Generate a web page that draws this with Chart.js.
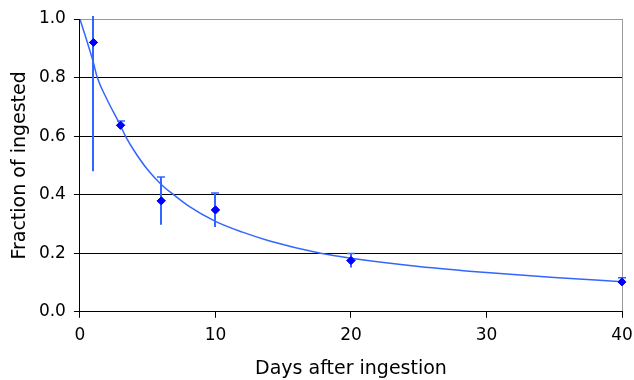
<!DOCTYPE html>
<html>
<head>
<meta charset="utf-8">
<script src="https://cdn.jsdelivr.net/npm/chart.js@4/dist/chart.umd.min.js"></script>
<style>
html,body{margin:0;padding:0;background:#fff;}
canvas{display:block;}
</style>
</head>
<body>
<canvas id="c" width="634" height="380"></canvas>
<script>
// Measured data
const days = [1, 3, 6, 10, 20, 40];
const fraction = [0.92, 0.637, 0.379, 0.348, 0.175, 0.102];
const errLow = [0.48, 0.625, 0.297, 0.29, 0.151, 0.09];
const errHigh = [1.36, 0.652, 0.46, 0.406, 0.199, 0.116];

// Fitted curve
const fitX = [0, 1, 1.28, 2, 3, 3.36, 4, 5, 6, 6.91, 8, 10, 12, 14, 17.75, 20, 25, 30, 35, 40];
const fitY = [1.0, 0.85, 0.8, 0.725, 0.635, 0.6, 0.55, 0.485, 0.435, 0.4, 0.362, 0.309, 0.272, 0.242, 0.2, 0.183, 0.155, 0.134, 0.117, 0.103];

const xTicks = [0, 10, 20, 30, 40];
const yTicks = [0, 0.2, 0.4, 0.6, 0.8, 1.0];

const pointColor = '#0000FF';
const lineColor = '#3366FF';
const FONT = 'DejaVu Sans, Verdana, sans-serif';

const errorBars = {
  id: 'errorBars',
  afterDatasetsDraw(chart) {
    const {ctx, chartArea, scales: {x, y}} = chart;
    ctx.save();
    ctx.beginPath();
    ctx.rect(chartArea.left - 5, chartArea.top - 3, chartArea.width + 10, chartArea.height + 3);
    ctx.clip();
    ctx.strokeStyle = lineColor;
    days.forEach((d, i) => {
      const px = Math.round(x.getPixelForValue(d));
      const yl = y.getPixelForValue(errLow[i]);
      const yh = y.getPixelForValue(errHigh[i]);
      ctx.lineWidth = 2;
      ctx.beginPath();
      ctx.moveTo(px, yl);
      ctx.lineTo(px, yh);
      ctx.stroke();
      ctx.lineWidth = 1.5;
      ctx.beginPath();
      ctx.moveTo(px - 4, yh);
      ctx.lineTo(px + 4, yh);
      ctx.stroke();
    });
    ctx.restore();
    const meta = chart.getDatasetMeta(1);
    meta.data.forEach(el => el.draw(ctx, chartArea));
  }
};

new Chart(document.getElementById('c'), {
  type: 'scatter',
  data: {
    datasets: [
      {
        label: 'fit',
        data: fitX.map((v, i) => ({x: v, y: fitY[i]})),
        showLine: true,
        borderColor: lineColor,
        borderWidth: 1.5,
        pointRadius: 0,
        cubicInterpolationMode: 'monotone',
        fill: false
      },
      {
        label: 'measured',
        data: days.map((v, i) => ({x: v, y: fraction[i]})),
        pointStyle: 'rectRot',
        pointRadius: 4,
        backgroundColor: pointColor,
        borderColor: pointColor,
        borderWidth: 1
      }
    ]
  },
  plugins: [errorBars],
  options: {
    responsive: false,
    animation: false,
    devicePixelRatio: 1,
    layout: {padding: {top: 19, right: 12, left: 10, bottom: 0}},
    plugins: {legend: {display: false}, tooltip: {enabled: false}},
    scales: {
      x: {
        type: 'linear',
        min: 0, max: 40,
        afterBuildTicks: s => { s.ticks = xTicks.map(v => ({value: v})); },
        afterFit: s => { s.paddingLeft = 0; s.paddingRight = 0; },
        ticks: {
          color: '#000',
          font: {family: FONT, size: 17},
          padding: 8,
          maxRotation: 0,
          callback: v => String(v)
        },
        grid: {
          color: c => (c.tick && c.tick.value === 40) ? '#999999' : 'rgba(0,0,0,0)',
          tickColor: '#000',
          tickLength: 6,
          lineWidth: 1
        },
        border: {color: '#000', width: 1},
        title: {
          display: true,
          text: 'Days after ingestion',
          color: '#000',
          font: {family: FONT, size: 19},
          padding: {top: 3, bottom: 0}
        }
      },
      y: {
        type: 'linear',
        min: 0, max: 1.0,
        afterBuildTicks: s => { s.ticks = yTicks.map(v => ({value: v})); },
        afterFit: s => { s.paddingTop = 0; s.paddingBottom = 0; },
        ticks: {
          color: '#000',
          font: {family: FONT, size: 17},
          padding: 8,
          callback: v => v.toFixed(1)
        },
        grid: {
          color: c => (c.tick && Math.abs(c.tick.value - 1) < 1e-9) ? '#999999' : (c.tick && c.tick.value === 0 ? 'rgba(0,0,0,0)' : '#000'),
          tickColor: '#000',
          tickLength: 6,
          lineWidth: 1
        },
        border: {color: '#000', width: 1},
        title: {
          display: true,
          text: 'Fraction of ingested',
          color: '#000',
          font: {family: FONT, size: 19, lineHeight: 1.1},
          padding: {top: 0, bottom: 0}
        }
      }
    }
  }
});
</script>
</body>
</html>
